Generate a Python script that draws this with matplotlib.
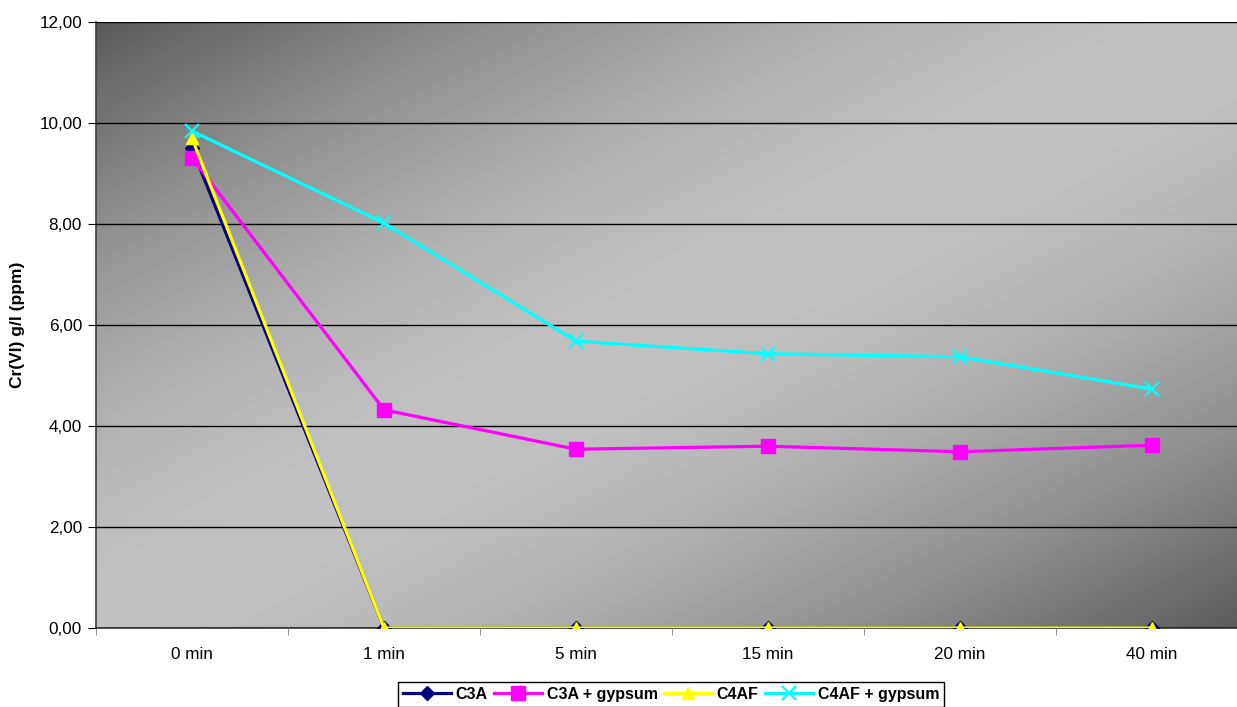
import numpy as np
import matplotlib
matplotlib.use("Agg")
import matplotlib.pyplot as plt
from matplotlib.ticker import FuncFormatter, FixedLocator

plt.rcParams['font.family'] = ['Liberation Sans', 'DejaVu Sans']

# Sampling times and Cr(VI) concentrations
times = ["0 min", "1 min", "5 min", "15 min", "20 min", "40 min"]
c3a = [9.50, 0.0, 0.0, 0.0, 0.0, 0.0]
c3a_gypsum = [9.31, 4.32, 3.54, 3.60, 3.49, 3.62]
c4af = [9.70, 0.0, 0.0, 0.0, 0.0, 0.0]
c4af_gypsum = [9.84, 8.02, 5.68, 5.43, 5.37, 4.73]

W, H = 1237, 707
fig = plt.figure(figsize=(W / 100, H / 100), dpi=100)
fig.patch.set_facecolor('white')

left, right, top, bottom = 96, 1248, 22, 628
ax = fig.add_axes([left / W, 1 - bottom / H, (right - left) / W, (bottom - top) / H])

# Diagonal grey gradient: dark at top-left and bottom-right, light across the middle
ny, nx = 300, 600
xx, yy = np.meshgrid(np.linspace(0, 1, nx), np.linspace(0, 1, ny))
t = (xx + yy) / 2.0
dist = np.abs(2 * t - 1)
dark, light = 0.35, 0.76
shade = light - (light - dark) * dist ** 1.7
rgb = np.dstack([shade, shade, shade])
ax.imshow(rgb, extent=[0, 1, 0, 1], transform=ax.transAxes, aspect='auto',
          zorder=0, interpolation='bilinear')

x = np.arange(len(times))
ax.set_xlim(-0.5, len(times) - 0.5)
ax.set_ylim(0, 12)

lw = 2.3
ax.plot(x, c3a, color='#000080', lw=lw, marker='D', ms=7, label='C3A', zorder=3)
ax.plot(x, c3a_gypsum, color='#FF00FF', lw=lw, marker='s', ms=9.5, label='C3A + gypsum', zorder=3)
ax.plot(x, c4af, color='#FFFF00', lw=lw, marker='^', ms=8.5, label='C4AF', zorder=3)
ax.plot(x, c4af_gypsum, color='#00FFFF', lw=lw, marker='x', ms=10, mew=1.6,
        label='C4AF + gypsum', zorder=3)

# Horizontal gridlines
ax.set_yticks(np.arange(0, 13, 2))
ax.yaxis.set_major_formatter(FuncFormatter(lambda v, p: f"{v:.2f}".replace('.', ',')))
ax.grid(axis='y', color='black', lw=1.0, zorder=1)
ax.set_axisbelow(False)
for gl in ax.get_ygridlines():
    gl.set_zorder(1)

ax.set_xticks(x)
ax.set_xticklabels(times)
ax.xaxis.set_minor_locator(FixedLocator(np.arange(-0.5, len(times), 1.0)))
ax.tick_params(axis='x', which='major', length=0, pad=14, labelsize=12.3)
ax.tick_params(axis='x', which='minor', length=5, color='#808080', direction='out')
ax.tick_params(axis='y', which='major', length=6, color='black', direction='out',
               labelsize=12.3, pad=4)

for s in ['top', 'right']:
    ax.spines[s].set_visible(False)
ax.spines['left'].set_color('#404040')
ax.spines['bottom'].set_color('#303030')
ax.spines['left'].set_linewidth(1.2)
ax.spines['bottom'].set_linewidth(1.2)

fig.text(18 / W, 1 - 325 / H, "Cr(VI) g/l (ppm)", rotation=90, ha='center', va='center',
         fontsize=12.5, fontweight='bold')

leg = fig.legend(loc='upper center', bbox_to_anchor=(671 / W, 1 - 682 / H), ncol=4,
                 frameon=True, fancybox=False, edgecolor='black', framealpha=1,
                 prop={'weight': 'bold', 'size': 11.5}, handlelength=3.0,
                 handletextpad=0.3, columnspacing=0.4, borderpad=0.3,
                 borderaxespad=0)
leg.get_frame().set_linewidth(1.0)

fig.savefig("out.png", dpi=100)
